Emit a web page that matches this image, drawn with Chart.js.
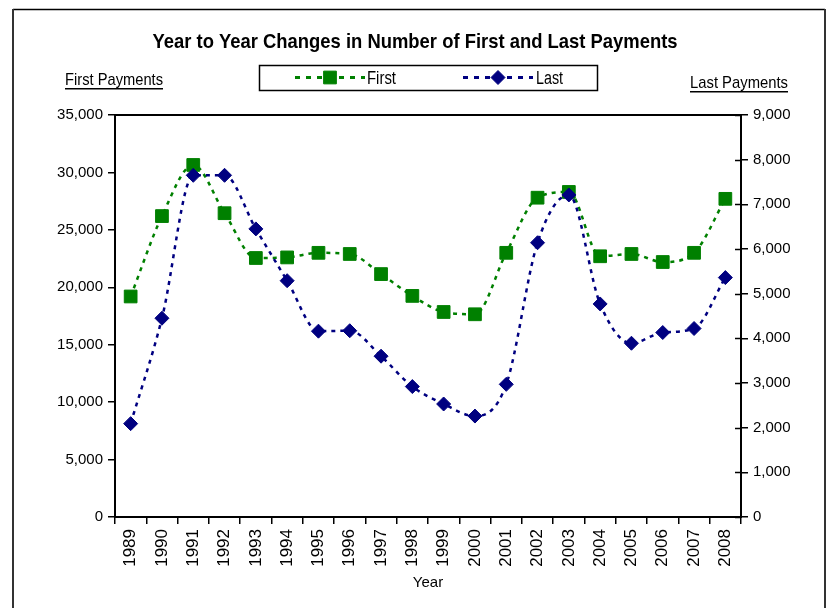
<!DOCTYPE html>
<html>
<head>
<meta charset="utf-8">
<script src="https://cdn.jsdelivr.net/npm/chart.js@4.4.1/dist/chart.umd.min.js"></script>
<style>
  html, body { margin: 0; padding: 0; background: #fff; }
  #wrap { width: 835px; height: 608px; }
</style>
</head>
<body>
<div id="wrap"><canvas id="chart" width="835" height="608"></canvas></div>
<script>
const years = ["1989", "1990", "1991", "1992", "1993", "1994", "1995", "1996", "1997", "1998",
  "1999", "2000", "2001", "2002", "2003", "2004", "2005", "2006", "2007", "2008"];
const firstPayments = [19200, 26200, 30650, 26450, 22550, 22600, 23000, 22900, 21150, 19250,
  17850, 17650, 23000, 27800, 28300, 22700, 22900, 22200, 23000, 27700];
const lastPayments = [2090, 4450, 7650, 7650, 6450, 5290, 4160, 4170, 3600, 2920,
  2530, 2260, 2970, 6140, 7210, 4770, 3890, 4130, 4220, 5360];

const titleText = "Year to Year Changes in Number of First and Last Payments";
const leftTitle = "First Payments";
const rightTitle = "Last Payments";
const xTitle = "Year";

const FONT = '"Liberation Sans", Arial, sans-serif';
const GREEN = "#008000";
const NAVY = "#000080";

function fmt(v) {
  return Number(v).toLocaleString("en-US");
}

// draw text squeezed horizontally to a given width (the original uses a narrow face)
function narrowText(ctx, txt, x, y, width) {
  const w = ctx.measureText(txt).width;
  const sx = Math.min(1, width / w);
  ctx.save();
  ctx.translate(x, y);
  ctx.scale(sx, 1);
  ctx.fillText(txt, 0, 0);
  ctx.restore();
  return w * sx;
}

// Frame, title, axis captions and the boxed legend, drawn like the Excel original.
const decor = {
  id: "decor",
  afterDraw(chart) {
    const ctx = chart.ctx;
    const a = chart.chartArea;
    ctx.save();

    // outer border (bottom edge is off the picture)
    ctx.strokeStyle = "#000";
    ctx.lineWidth = 1.5;
    ctx.beginPath();
    ctx.moveTo(13, 9.5);
    ctx.lineTo(825, 9.5);
    ctx.stroke();
    ctx.strokeStyle = "#333";
    ctx.lineWidth = 2;
    ctx.beginPath();
    ctx.moveTo(13, 9);
    ctx.lineTo(13, 608);
    ctx.moveTo(825, 9);
    ctx.lineTo(825, 608);
    ctx.stroke();

    // plot rectangle
    ctx.strokeStyle = "#000";
    ctx.lineWidth = 2;
    ctx.strokeRect(a.left, a.top, a.right - a.left, a.bottom - a.top);

    // inward half of right-axis ticks
    const y1 = chart.scales.y1;
    ctx.lineWidth = 1.5;
    ctx.beginPath();
    y1.ticks.forEach((t) => {
      const py = Math.round(y1.getPixelForValue(t.value)) + 0.5;
      ctx.moveTo(a.right - 6, py);
      ctx.lineTo(a.right, py);
    });
    ctx.stroke();

    // title
    ctx.fillStyle = "#000";
    ctx.font = "bold 21px " + FONT;
    ctx.textAlign = "center";
    ctx.textBaseline = "alphabetic";
    narrowText(ctx, titleText, 415, 48, 525);

    // axis captions, underlined
    ctx.font = "17px " + FONT;
    ctx.textAlign = "left";
    const drawUnder = (txt, x, y) => {
      const w = narrowText(ctx, txt, x, y, 98);
      ctx.fillRect(x, y + 3, w, 1.5);
    };
    drawUnder(leftTitle, 65, 85);
    drawUnder(rightTitle, 690, 88);

    // legend box
    ctx.strokeStyle = "#000";
    ctx.lineWidth = 1.5;
    ctx.strokeRect(259.5, 65.5, 338, 25);
    const items = [
      { ds: chart.data.datasets[0], x0: 295, x1: 365, tx: 367, tw: 29 },
      { ds: chart.data.datasets[1], x0: 463, x1: 533, tx: 536, tw: 27 },
    ];
    const ly = 77.5;
    items.forEach((it) => {
      ctx.strokeStyle = it.ds.borderColor;
      ctx.lineWidth = 3;
      ctx.setLineDash([5, 6]);
      ctx.beginPath();
      ctx.moveTo(it.x0, ly);
      ctx.lineTo(it.x1, ly);
      ctx.stroke();
      ctx.setLineDash([]);
      ctx.fillStyle = it.ds.pointBackgroundColor;
      ctx.strokeStyle = it.ds.pointBorderColor;
      ctx.lineWidth = 1;
      Chart.helpers.drawPoint(ctx, {
        pointStyle: it.ds.pointStyle,
        radius: it.ds.pointRadius,
        borderWidth: 1,
      }, (it.x0 + it.x1) / 2, ly);
      ctx.fillStyle = "#000";
      ctx.font = "18px " + FONT;
      ctx.textBaseline = "alphabetic";
      narrowText(ctx, it.ds.label, it.tx, 84, it.tw);
    });

    ctx.restore();
  },
};

const ctx = document.getElementById("chart").getContext("2d");
new Chart(ctx, {
  type: "line",
  data: {
    labels: years,
    datasets: [
      {
        label: "First",
        data: firstPayments,
        yAxisID: "y",
        order: 2,
        borderColor: GREEN,
        borderWidth: 2.5,
        borderDash: [4, 5],
        cubicInterpolationMode: "monotone",
        pointStyle: "rect",
        pointRadius: 9,
        pointBackgroundColor: GREEN,
        pointBorderColor: GREEN,
        pointBorderWidth: 1,
        fill: false,
      },
      {
        label: "Last",
        data: lastPayments,
        yAxisID: "y1",
        order: 1,
        borderColor: NAVY,
        borderWidth: 2.5,
        borderDash: [4, 5],
        cubicInterpolationMode: "monotone",
        pointStyle: "rectRot",
        pointRadius: 7,
        pointBackgroundColor: NAVY,
        pointBorderColor: NAVY,
        pointBorderWidth: 1,
        fill: false,
      },
    ],
  },
  options: {
    responsive: false,
    animation: false,
    devicePixelRatio: 1,
    layout: { padding: { top: 115, left: 0, right: 0, bottom: 0 } },
    plugins: {
      legend: { display: false },
      title: { display: false },
      tooltip: { enabled: false },
    },
    scales: {
      x: {
        type: "category",
        offset: true,
        grid: {
          offset: true,
          drawOnChartArea: false,
          color: "#000",
          lineWidth: 1.5,
          tickLength: 7,
        },
        border: { display: true, color: "#000", width: 2 },
        ticks: {
          color: "#000",
          font: { family: FONT, size: 17 },
          minRotation: 90,
          maxRotation: 90,
          padding: 5,
          autoSkip: false,
        },
        title: {
          display: true,
          text: xTitle,
          color: "#000",
          font: { family: FONT, size: 15 },
          padding: { top: 0, bottom: 16 },
        },
        afterFit(s) { s.height = 91; },
      },
      y: {
        position: "left",
        min: 0,
        max: 35000,
        grid: {
          drawOnChartArea: false,
          color: "#000",
          lineWidth: 1.5,
          tickLength: 7,
        },
        border: { display: true, color: "#000", width: 2 },
        ticks: {
          stepSize: 5000,
          color: "#000",
          font: { family: FONT, size: 15 },
          padding: 5,
          callback: (v) => fmt(v),
        },
        afterFit(s) { s.width = 115; },
      },
      y1: {
        position: "right",
        min: 0,
        max: 9000,
        grid: {
          drawOnChartArea: false,
          color: "#000",
          lineWidth: 1.5,
          tickLength: 7,
        },
        border: { display: true, color: "#000", width: 2 },
        ticks: {
          stepSize: 1000,
          color: "#000",
          font: { family: FONT, size: 15 },
          padding: 5,
          callback: (v) => fmt(v),
        },
        afterFit(s) { s.width = 94; },
      },
    },
  },
  plugins: [decor],
});
</script>
</body>
</html>
